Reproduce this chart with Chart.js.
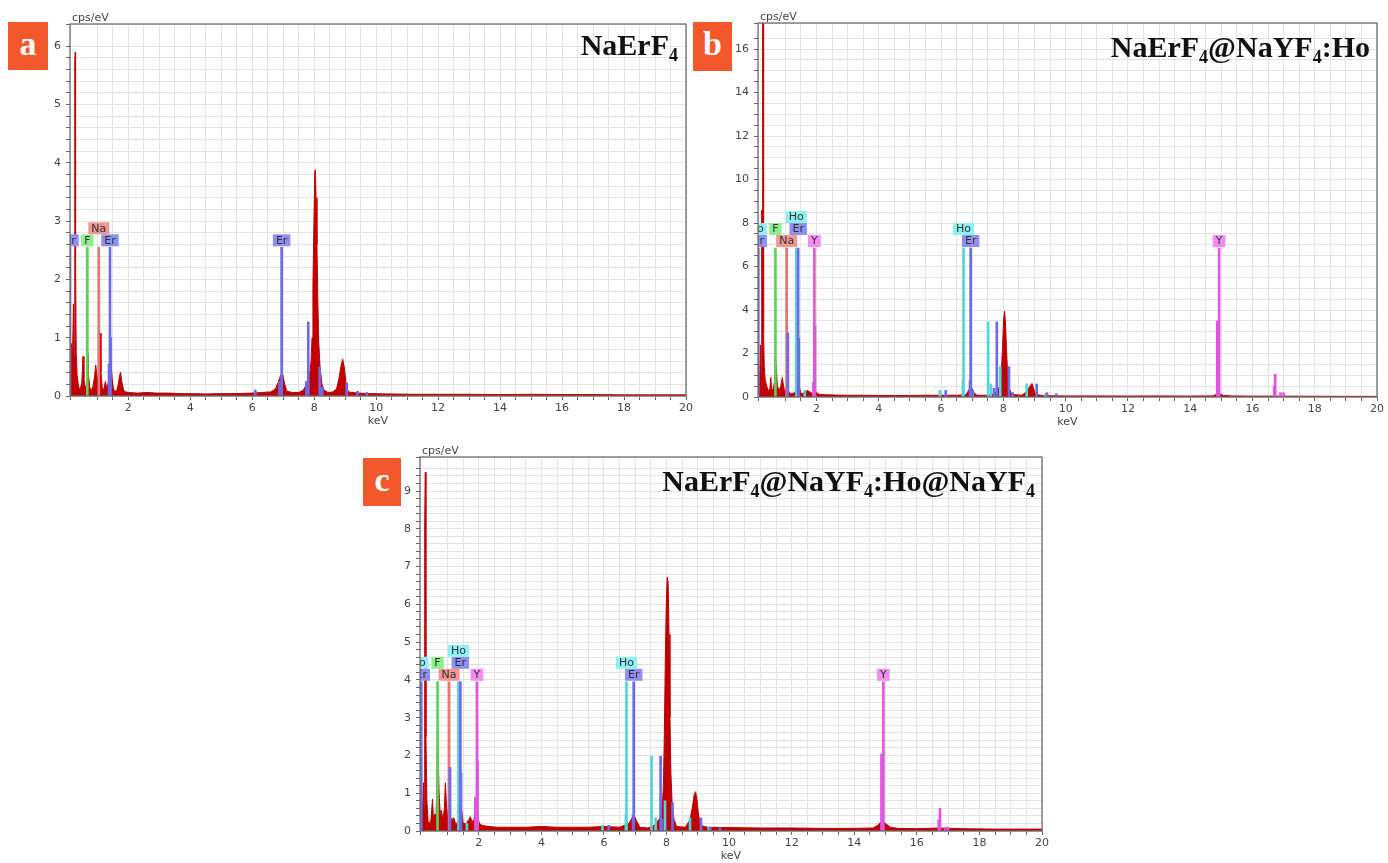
<!DOCTYPE html>
<html lang="en">
<head>
    <meta charset="UTF-8">
    <title>EDS spectra</title>
    <script src="https://cdn.jsdelivr.net/npm/chart.js"></script>
    <style>
        body { margin: 0; background: #fff; overflow: hidden; }
        #page { position: relative; width: 1388px; height: 863px; }
        canvas { position: absolute; }
        .tag { position: absolute; width: 40px; height: 48px; background: #f2582c; color: #fff;
               font: bold 34px "Liberation Serif", serif; text-align: center; line-height: 44px; }
        .title { position: absolute; font: bold 30px "Liberation Serif", serif; color: #111;
                 white-space: nowrap; line-height: 30px; }
        .title sub { font-size: 18px; vertical-align: -6px; line-height: 0; }
    </style>
</head>
<body>
<div id="page">
    <canvas id="chartA" width="680" height="434" style="left:20px;top:0px"></canvas>
    <canvas id="chartB" width="680" height="435" style="left:708px;top:0px"></canvas>
    <canvas id="chartC" width="685" height="430" style="left:370px;top:433px"></canvas>

    <div class="tag" style="left:8px;top:22px">a</div>
    <div class="tag" style="left:693px;top:22px;width:39px;height:49px">b</div>
    <div class="tag" style="left:363px;top:458px;width:38px">c</div>

    <div class="title" style="right:710px;top:30px">NaErF<sub>4</sub></div>
    <div class="title" style="right:18px;top:32px">NaErF<sub>4</sub>@NaYF<sub>4</sub>:Ho</div>
    <div class="title" style="right:353px;top:466px">NaErF<sub>4</sub>@NaYF<sub>4</sub>:Ho@NaYF<sub>4</sub></div>
</div>

<script>
// energy window of the detector (keV)
const keVMin = 0.12;
const keVMax = 20;

// ---- a: NaErF4 ----
const spectrumA = [[0.12,0.05],[0.14,0.35],[0.17,0.9],[0.2,0.6],[0.23,1.58],[0.25,0.7],[0.27,3.6],[0.28,5.75],[0.29,5.9],[0.3,2.4],
    [0.32,0.75],[0.35,0.35],[0.4,0.15],[0.45,0.12],[0.5,0.22],[0.54,0.68],[0.57,0.3],[0.61,0.13],[0.65,0.2],[0.68,0.5],[0.7,0.74],
    [0.72,0.35],[0.76,0.14],[0.81,0.1],[0.86,0.16],[0.91,0.32],[0.95,0.53],[0.98,0.4],[1.02,0.2],[1.06,0.6],[1.09,1.08],[1.12,0.42],
    [1.16,0.15],[1.21,0.1],[1.26,0.25],[1.31,0.12],[1.36,0.25],[1.4,0.55],[1.44,0.6],[1.48,0.3],[1.52,0.12],[1.58,0.08],[1.63,0.1],
    [1.68,0.2],[1.72,0.35],[1.75,0.41],[1.79,0.25],[1.85,0.1],[1.92,0.07],[2.0,0.06],[2.3,0.05],[2.6,0.06],[2.9,0.05],[3.3,0.05],
    [3.7,0.04],[4.1,0.04],[4.5,0.035],[4.9,0.04],[5.3,0.04],[5.7,0.045],[6.0,0.05],[6.3,0.06],[6.6,0.07],[6.75,0.12],[6.85,0.25],
    [6.92,0.36],[6.98,0.38],[7.05,0.2],[7.12,0.08],[7.3,0.06],[7.5,0.06],[7.65,0.1],[7.75,0.2],[7.85,0.35],[7.9,0.6],[7.93,1.0],
    [7.96,1.9],[7.99,2.9],[8.02,3.85],[8.04,3.88],[8.06,3.4],[8.09,2.6],[8.12,1.6],[8.15,0.9],[8.19,0.5],[8.25,0.2],[8.32,0.1],
    [8.45,0.06],[8.6,0.07],[8.72,0.12],[8.8,0.3],[8.86,0.5],[8.92,0.63],[8.97,0.5],[9.03,0.22],[9.1,0.07],[9.4,0.05],[9.8,0.04],
    [10.5,0.035],[11.2,0.03],[12,0.03],[13,0.03],[14,0.025],[15,0.03],[16,0.025],[17,0.025],[18,0.02],[19,0.02],[20,0.02]];
const erLinesA = [[1.43,1.0],[1.38,0.55],[6.1,0.1],[6.88,0.25],[7.75,0.25],[7.81,1.27],[8.18,0.5],[8.26,0.15],[9.05,0.22],[9.4,0.08],[9.7,0.06]];
const labelsA = [['Er',0.12],['F',0.68],['Na',1.05],['Er',1.41],['Er',6.95]];
const labelLevelA = 2.55;

// ---- b: NaErF4@NaYF4:Ho ----
const spectrumB = [[0.12,0.1],[0.15,0.5],[0.18,1.2],[0.2,2.4],[0.22,1.0],[0.24,8.6],[0.26,4.0],[0.27,17.5],[0.29,17.5],[0.3,3.0],
    [0.32,1.4],[0.35,0.8],[0.4,0.5],[0.45,0.3],[0.5,0.35],[0.53,0.9],[0.56,0.4],[0.6,0.3],[0.65,0.7],[0.68,1.9],[0.71,1.4],[0.74,0.5],
    [0.8,0.3],[0.85,0.5],[0.9,0.9],[0.93,0.6],[0.97,0.3],[1.0,0.25],[1.04,0.45],[1.08,0.4],[1.12,0.2],[1.2,0.15],[1.3,0.2],[1.38,0.5],
    [1.42,0.8],[1.46,0.4],[1.5,0.15],[1.6,0.2],[1.7,0.3],[1.76,0.25],[1.82,0.2],[1.88,0.15],[1.95,0.3],[2.0,0.2],[2.1,0.12],[2.3,0.1],
    [2.6,0.09],[3.0,0.08],[3.5,0.08],[4.0,0.07],[4.5,0.07],[5.0,0.07],[5.5,0.08],[6.0,0.08],[6.5,0.08],[6.8,0.1],[6.9,0.35],[6.97,0.45],
    [7.05,0.2],[7.15,0.08],[7.5,0.08],[7.7,0.15],[7.8,0.3],[7.88,0.5],[7.93,1.0],[7.97,2.2],[8.01,3.6],[8.04,3.95],[8.07,3.4],
    [8.1,2.2],[8.14,1.0],[8.19,0.4],[8.27,0.12],[8.6,0.08],[8.78,0.3],[8.85,0.5],[8.92,0.62],[8.97,0.4],[9.03,0.12],[9.3,0.06],
    [10,0.05],[11,0.05],[12,0.045],[13,0.05],[14,0.045],[14.7,0.05],[14.85,0.12],[14.95,0.15],[15.05,0.08],[15.3,0.05],[16,0.04],
    [17,0.04],[18,0.035],[19,0.03],[20,0.03]];
const erLinesB = [[1.08,2.95],[1.43,2.7],[6.15,0.3],[6.93,0.75],[7.02,0.3],[7.7,0.4],[7.79,3.45],[8.18,1.4],[8.3,0.2],[9.07,0.6],[9.4,0.2],[9.7,0.15]];
const hoLinesB = [[1.62,0.3],[5.96,0.3],[6.7,0.75],[7.51,3.45],[7.6,0.6],[7.9,1.4],[8.75,0.6],[9.35,0.15]];
const yLinesB = [[1.9,0.7],[1.95,3.25],[14.87,3.5],[16.7,0.5],[16.73,1.05],[16.9,0.2],[17.0,0.2]];
const labelsB = [['Er',0.13],['Ho',0.06],['F',0.68],['Na',1.04],['Ho',1.35],['Er',1.41],['Y',1.93],['Ho',6.72],['Er',6.95],['Y',14.93]];
const labelLevelB = 6.85;

// ---- c: NaErF4@NaYF4:Ho@NaYF4 ----
const spectrumC = [[0.12,0.1],[0.16,0.4],[0.2,0.5],[0.23,1.28],[0.25,0.6],[0.27,8.1],[0.29,9.5],[0.31,2.5],[0.34,0.8],[0.38,0.25],
    [0.42,0.2],[0.47,0.3],[0.52,0.84],[0.55,0.35],[0.6,0.45],[0.63,0.3],[0.66,1.2],[0.68,2.95],[0.7,2.05],[0.73,1.0],[0.77,0.4],
    [0.8,0.55],[0.85,0.3],[0.9,0.6],[0.93,1.28],[0.96,0.8],[1.0,0.35],[1.04,0.5],[1.08,0.4],[1.14,0.3],[1.2,0.35],[1.27,0.15],
    [1.35,0.3],[1.42,0.65],[1.46,0.5],[1.5,0.2],[1.6,0.2],[1.68,0.3],[1.73,0.38],[1.78,0.25],[1.85,0.3],[1.89,0.9],[1.93,0.5],
    [1.97,0.35],[2.02,0.2],[2.1,0.15],[2.3,0.12],[2.6,0.1],[3.0,0.1],[3.5,0.1],[4.0,0.12],[4.5,0.1],[5.0,0.1],[5.5,0.1],[6.0,0.12],
    [6.5,0.1],[6.8,0.2],[6.9,0.35],[6.96,0.42],[7.05,0.25],[7.15,0.1],[7.4,0.08],[7.6,0.15],[7.75,0.3],[7.8,0.35],[7.86,0.6],
    [7.9,1.2],[7.93,2.6],[7.96,4.5],[7.99,6.0],[8.02,6.72],[8.05,6.6],[8.08,5.2],[8.11,3.0],[8.14,1.5],[8.18,0.7],[8.24,0.3],
    [8.32,0.12],[8.6,0.1],[8.75,0.3],[8.82,0.6],[8.88,0.95],[8.93,1.04],[8.97,0.85],[9.02,0.45],[9.08,0.15],[9.3,0.1],[10,0.09],
    [11,0.08],[12,0.08],[13,0.07],[14,0.07],[14.6,0.08],[14.75,0.15],[14.9,0.28],[15.0,0.2],[15.15,0.1],[15.4,0.07],[16,0.06],
    [16.7,0.08],[17.5,0.06],[18.5,0.05],[20,0.05]];
const erLinesC = [[1.08,1.68],[1.43,1.54],[6.15,0.15],[6.93,0.42],[7.81,1.98],[7.85,0.3],[8.19,0.75],[9.1,0.35],[9.4,0.1],[9.7,0.08]];
const hoLinesC = [[1.62,0.2],[5.95,0.15],[6.7,0.45],[7.52,1.98],[7.65,0.35],[7.95,0.8],[8.75,0.35],[9.35,0.1]];
const yLinesC = [[1.89,0.9],[1.96,1.85],[14.87,2.03],[16.7,0.3],[16.74,0.6],[16.9,0.1],[17.0,0.1]];
const labelsC = [['Er',0.16],['Ho',0.06],['F',0.68],['Na',1.05],['Ho',1.35],['Er',1.41],['Y',1.94],['Ho',6.72],['Er',6.95],['Y',14.93]];
const labelLevelC = 3.95;

// element colours: marker line / label box
const lineColors = { Er: '#6b6be9', Ho: '#4fd6d6', F: '#55d655', Na: '#e57777', Y: '#e055e0' };
const boxColors = { Er: '#8f8ff2', Ho: '#8ef0f0', F: '#8eee8e', Na: '#f29595', Y: '#f38cf3' };

const toPoints = arr => arr.map(([x, y]) => ({ x, y }));

// label boxes stacked above the marker lines
const labelPlugin = {
    id: 'peakLabels',
    afterDatasetsDraw(chart, args, opts) {
        const { ctx, chartArea: a, scales: { x, y } } = chart;
        const placed = [];
        const base = y.getPixelForValue(opts.level) - 1;
        ctx.save();
        ctx.beginPath();
        ctx.rect(a.left, a.top, a.right - a.left, a.bottom - a.top);
        ctx.clip();
        ctx.font = '11px "DejaVu Sans"';
        ctx.textAlign = 'center';
        ctx.textBaseline = 'middle';
        opts.labels.slice().sort((p, q) => q[1] - p[1]).forEach(([el, kev]) => {
            const w = ctx.measureText(el).width + 6;
            const cx = x.getPixelForValue(kev);
            let row = 0;
            while (placed.some(b => b.row === row && cx - w / 2 < b.r + 2 && cx + w / 2 > b.l - 2)) row++;
            placed.push({ row, l: cx - w / 2, r: cx + w / 2 });
            const top = base - 12 * (row + 1);
            ctx.fillStyle = boxColors[el];
            ctx.fillRect(cx - w / 2, top, w, 12);
            ctx.fillStyle = '#333';
            ctx.fillText(el, cx, top + 6.5);
        });
        ctx.restore();
    }
};

// frame round the plot plus the axis captions
const framePlugin = {
    id: 'frame',
    afterDraw(chart) {
        const { ctx, chartArea: a } = chart;
        ctx.save();
        ctx.strokeStyle = '#6e6e6e';
        ctx.lineWidth = 1.3;
        ctx.strokeRect(a.left, a.top, a.right - a.left, a.bottom - a.top);
        ctx.fillStyle = '#444';
        ctx.font = '11px "DejaVu Sans"';
        ctx.textBaseline = 'alphabetic';
        ctx.textAlign = 'left';
        ctx.fillText('cps/eV', a.left + 2, a.top - 3);
        ctx.textAlign = 'center';
        ctx.textBaseline = 'middle';
        ctx.fillText('keV', (a.left + a.right) / 2, a.bottom + 25);
        ctx.restore();
    }
};

function buildChart(id, spectrum, extraLines, labels, labelLevel, yMax, yStep, yMajor, pad) {
    const datasets = [{
        type: 'line',
        data: toPoints(spectrum),
        borderColor: '#c00000',
        backgroundColor: '#c00000',
        borderWidth: 1,
        pointRadius: 0,
        tension: 0,
        fill: 'origin',
        order: 1
    }];
    ['Er', 'Ho', 'F', 'Na', 'Y'].forEach(el => {
        const tall = labels.filter(l => l[0] === el).map(l => [l[1], labelLevel]);
        const pts = tall.concat(extraLines[el] || []);
        if (!pts.length) return;
        datasets.push({
            type: 'bar',
            data: toPoints(pts),
            backgroundColor: lineColors[el],
            barThickness: 2,
            grouped: false,
            order: 0
        });
    });

    const isMultiple = (v, m) => Math.abs(v / m - Math.round(v / m)) < 1e-6;

    return new Chart(document.getElementById(id), {
        type: 'line',
        data: { datasets },
        options: {
            responsive: false,
            animation: false,
            layout: { padding: pad },
            plugins: {
                legend: { display: false },
                tooltip: { enabled: false },
                peakLabels: { labels, level: labelLevel }
            },
            scales: {
                x: {
                    type: 'linear',
                    min: keVMin,
                    max: keVMax,
                    offset: false,
                    border: { display: false },
                    grid: { color: '#e3e3e3', tickColor: '#666', tickLength: 4, offset: false },
                    ticks: {
                        stepSize: 0.5,
                        autoSkip: false,
                        maxRotation: 0,
                        padding: 2,
                        color: '#444',
                        font: { family: 'DejaVu Sans', size: 11 },
                        callback: v => (v > 1 && isMultiple(v, 2)) ? v : ''
                    },
                    afterFit: s => { s.height = 24; }
                },
                y: {
                    min: 0,
                    max: yMax,
                    border: { display: false },
                    grid: { color: '#e3e3e3', tickColor: '#666', tickLength: 4 },
                    ticks: {
                        stepSize: yStep,
                        autoSkip: false,
                        padding: 5,
                        color: '#444',
                        font: { family: 'DejaVu Sans', size: 11 },
                        callback: v => isMultiple(v, yMajor) ? v : ''
                    },
                    afterFit: s => { s.width = 40; }
                }
            }
        },
        plugins: [labelPlugin, framePlugin]
    });
}

buildChart('chartA', spectrumA, { Er: erLinesA }, labelsA, labelLevelA, 6.38, 0.2, 1,
    { left: 10, right: 14, top: 24, bottom: 14 });
buildChart('chartB', spectrumB, { Er: erLinesB, Ho: hoLinesB, Y: yLinesB }, labelsB, labelLevelB, 17.2, 0.5, 2,
    { left: 10, right: 11, top: 23, bottom: 14 });
buildChart('chartC', spectrumC, { Er: erLinesC, Ho: hoLinesC, Y: yLinesC }, labelsC, labelLevelC, 9.9, 0.2, 1,
    { left: 10, right: 13, top: 24, bottom: 8 });
</script>
</body>
</html>
